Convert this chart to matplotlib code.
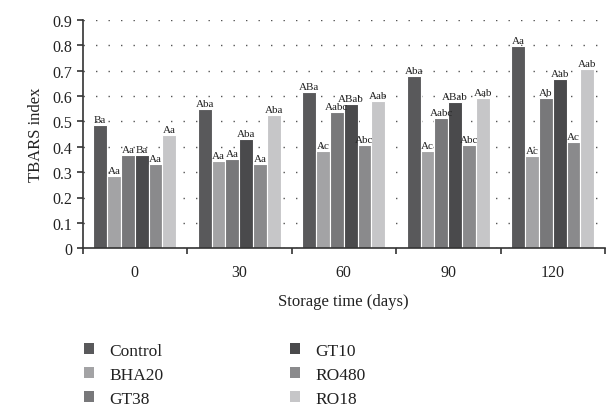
import matplotlib
matplotlib.use("Agg")
import matplotlib.pyplot as plt
import numpy as np
from matplotlib.patches import Patch

days = ["0", "30", "60", "90", "120"]
series = ["Control", "BHA20", "GT38", "GT10", "RO480", "RO18"]
control = [0.485, 0.547, 0.615, 0.679, 0.795]
bha20 = [0.283, 0.345, 0.382, 0.383, 0.365]
gt38 = [0.366, 0.351, 0.535, 0.513, 0.592]
gt10 = [0.367, 0.430, 0.569, 0.576, 0.665]
ro480 = [0.332, 0.332, 0.408, 0.408, 0.418]
ro18 = [0.446, 0.526, 0.581, 0.590, 0.705]
values = [control, bha20, gt38, gt10, ro480, ro18]
labels_control = ["Ba", "Aba", "ABa", "Aba", "Aa"]
labels_bha20 = ["Aa", "Aa", "Ac", "Ac", "Ac"]
labels_gt38 = ["Aa", "Aa", "Aabc", "Aabc", "Ab"]
labels_gt10 = ["Ba", "Aba", "ABab", "ABab", "Aab"]
labels_ro480 = ["Aa", "Aa", "Abc", "Abc", "Ac"]
labels_ro18 = ["Aa", "Aba", "Aab", "Aab", "Aab"]
letters = [labels_control, labels_bha20, labels_gt38, labels_gt10, labels_ro480, labels_ro18]
yticks = [0, 0.1, 0.2, 0.3, 0.4, 0.5, 0.6, 0.7, 0.8, 0.9]

colors = ["#59595b", "#a3a3a5", "#78787a", "#4a4a4c", "#8a8a8c", "#c6c6c8"]

plt.rcParams['font.family'] = ['Liberation Serif', 'DejaVu Serif']

fig = plt.figure(figsize=(6.06, 4.14), dpi=100)
ax = fig.add_axes([82.5/606, 1-249.3/414, (605-82.5)/606, (249.3-20.7)/414])

x = np.arange(len(days))
w = 0.132
for i, (vals, lab) in enumerate(zip(values, letters)):
    pos = x + (i - 2.5) * w
    bars = ax.bar(pos, vals, width=w, color=colors[i], edgecolor="white", linewidth=0.8, zorder=2)
    for b, t in zip(bars, lab):
        ax.text(b.get_x() + b.get_width()/2, b.get_height() + 0.004, t,
                ha="center", va="bottom", fontsize=8, color="#222222", zorder=3)

ax.set_xlim(-0.5, len(days) - 0.5)
ax.set_ylim(0, 0.9)
ax.set_yticks(yticks)
ax.set_yticklabels([("0" if v == 0 else f"{v:.1f}") for v in yticks])
ax.set_xticks(np.arange(len(days)+1) - 0.5)
ax.set_xticklabels([])
ax.set_xticks(x, minor=True)
ax.set_xticklabels(days, minor=True)
ax.tick_params(axis="x", which="minor", length=0, labelsize=11.5, pad=11, colors="#222222")
ax.tick_params(axis="x", which="major", direction="out", length=4, width=1.2, color="#333333")
ax.tick_params(axis="y", direction="out", length=4, width=1.2, color="#333333", labelsize=11.5, labelcolor="#222222")

ax.yaxis.grid(True, linestyle=(0, (1, 8)), linewidth=1.0, color="#555555", zorder=0)
ax.set_axisbelow(True)
for s in ["top", "right"]:
    ax.spines[s].set_visible(False)
for s in ["left", "bottom"]:
    ax.spines[s].set_linewidth(1.2)
    ax.spines[s].set_color("#333333")

ax.set_ylabel("TBARS index", fontsize=12, color="#222222", labelpad=6)
ax.set_xlabel("Storage time (days)", fontsize=12, color="#222222", labelpad=10)

handles = [Patch(facecolor=c, edgecolor="none") for c in colors]
common = dict(loc="upper left", frameon=False, fontsize=12.5, handlelength=0.6, handleheight=0.6,
              handletextpad=0.85, labelspacing=0.45, borderaxespad=0, borderpad=0)
leg1 = fig.legend(handles[:3], series[:3], bbox_to_anchor=(84/606, 1-344/414), **common)
leg2 = fig.legend(handles[3:], series[3:], bbox_to_anchor=(290/606, 1-344/414), **common)
for lg in (leg1, leg2):
    for t in lg.get_texts():
        t.set_color("#222222")

fig.savefig("out.png", dpi=100)
